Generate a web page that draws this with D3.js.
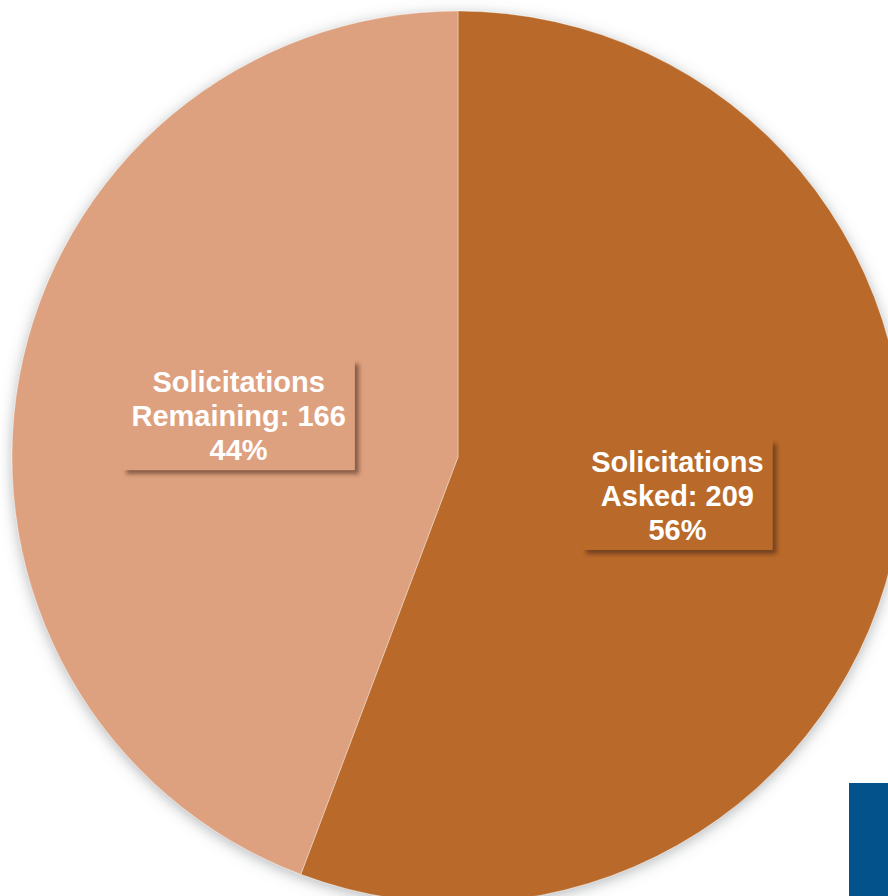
<!DOCTYPE html>
<html>
<head>
<meta charset="utf-8">
<script src="https://cdn.jsdelivr.net/npm/d3@7"></script>
<style>
  html, body { margin: 0; padding: 0; background: #ffffff; overflow: hidden; }
  svg { display: block; }
</style>
</head>
<body>
<svg id="chart" width="888" height="896"></svg>
<script>
// ---- Data ----
const categories = ["Solicitations Asked", "Solicitations Remaining"];
const labelLines = [["Solicitations", "Asked: 209"], ["Solicitations", "Remaining: 166"]];
const values = [209, 166];
const colors = ["#B96A29", "#DEA17F"];

// ---- Layout ----
const W = 888, H = 896;
const cx = 458, cy = 457, R = 446;

const svg = d3.select("#chart");
const defs = svg.append("defs");

const pieShadow = defs.append("filter").attr("id", "pieShadow")
  .attr("x", "-10%").attr("y", "-10%").attr("width", "120%").attr("height", "120%");
pieShadow.append("feDropShadow")
  .attr("dx", 0).attr("dy", 3).attr("stdDeviation", 7)
  .attr("flood-color", "#6b7076").attr("flood-opacity", 0.5);

const boxShadow = defs.append("filter").attr("id", "boxShadow")
  .attr("x", "-20%").attr("y", "-20%").attr("width", "140%").attr("height", "140%");
boxShadow.append("feDropShadow")
  .attr("dx", 4).attr("dy", 4).attr("stdDeviation", 2)
  .attr("flood-color", "#3a2210").attr("flood-opacity", 0.55);

const total = d3.sum(values);
const pie = d3.pie().sort(null).value(d => d);
const arcs = pie(values);
const arc = d3.arc().innerRadius(0).outerRadius(R);

const g = svg.append("g").attr("transform", `translate(${cx},${cy})`);

g.append("g").attr("filter", "url(#pieShadow)")
  .selectAll("path")
  .data(arcs)
  .join("path")
  .attr("d", arc)
  .attr("fill", (d, i) => colors[i])
  .attr("stroke", "rgba(255,255,255,0.35)")
  .attr("stroke-width", 1);

// ---- Labels ----
const fontSize = 29;
const lineH = 34;
const padX = 9, padTop = 8, padBot = 10;

arcs.forEach((d, i) => {
  const [lx, ly] = arc.centroid(d);
  const pct = Math.round(values[i] / total * 100) + "%";
  const lines = labelLines[i].concat([pct]);
  const lg = g.append("g").attr("transform", `translate(${lx},${ly})`);
  const rect = lg.append("rect")
    .attr("fill", colors[i])
    .attr("filter", "url(#boxShadow)");
  const text = lg.append("text")
    .attr("text-anchor", "middle")
    .attr("font-family", "'Liberation Sans', Arial, Helvetica, sans-serif")
    .attr("font-weight", "bold")
    .attr("font-size", fontSize)
    .attr("fill", "#ffffff");
  lines.forEach((t, k) => {
    text.append("tspan")
      .attr("x", 0)
      .attr("y", (k - 1) * lineH + 9)
      .text(t);
  });
  const bb = text.node().getBBox();
  rect.attr("x", bb.x - padX)
    .attr("y", bb.y - padTop + 2)
    .attr("width", bb.width + 2 * padX)
    .attr("height", bb.height + padTop + padBot - 8);
});

// ---- Blue decorative block (bottom right) ----
svg.append("rect")
  .attr("x", 849).attr("y", 783)
  .attr("width", 39).attr("height", 113)
  .attr("fill", "#04528B");
</script>
</body>
</html>
